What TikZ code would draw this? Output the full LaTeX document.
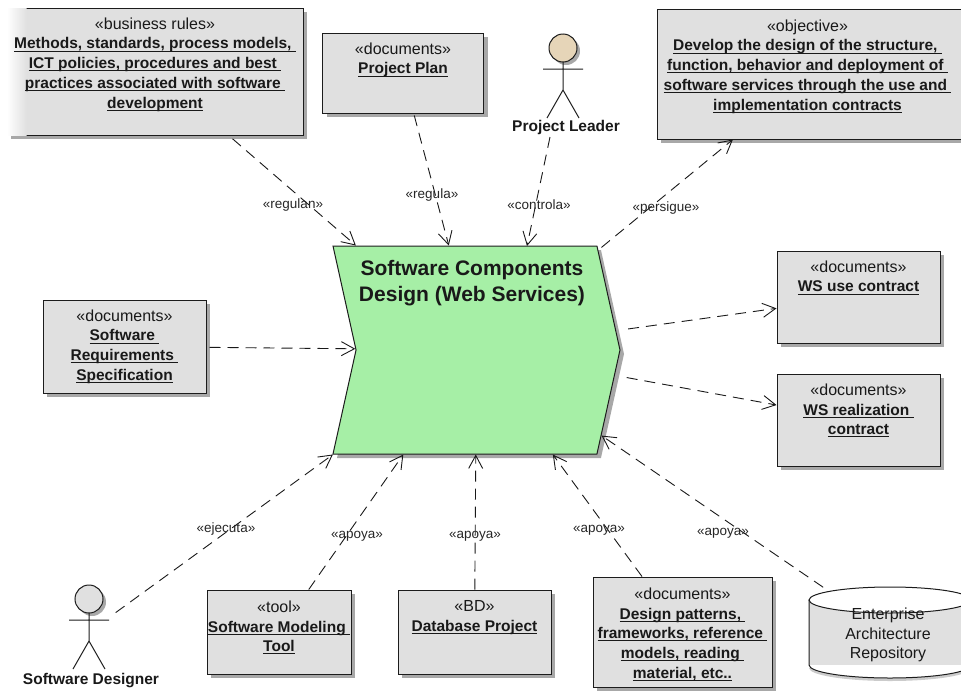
\documentclass[tikz,border=0pt]{standalone}
\usepackage{fontspec}
\setmainfont{Liberation Sans}
\usetikzlibrary{arrows.meta,positioning,shadows,shapes.symbols}

\definecolor{boxgray}{HTML}{E0E0E0}
\definecolor{edgegray}{HTML}{1C1C1C}
\definecolor{shadowgray}{HTML}{A8A8A8}
\definecolor{processgreen}{HTML}{A6EFA6}
\definecolor{leaderskin}{HTML}{E6D5B8}

\newcommand{\ulbf}[1]{\setbox0\hbox{\bfseries\fontsize{15.5}{19.7}\selectfont #1}\rlap{\rule[-2.6pt]{\wd0}{1pt}}\box0}

\tikzset{
  box/.style={draw=edgegray, line width=1pt, fill=boxgray, inner sep=0pt,
    drop shadow={shadow xshift=4pt, shadow yshift=-4pt, fill=shadowgray, opacity=1}},
  boxtext/.style={align=center, inner sep=0pt, text=black!90, font=\fontsize{16}{19.7}\selectfont},
  actorname/.style={inner sep=0pt, text=black!90, font=\bfseries\fontsize{15.5}{18}\selectfont},
  conlabel/.style={inner sep=0pt, text=black!85, font=\fontsize{13.5}{16}\selectfont},
  dep/.style={->, >={Straight Barb[length=13pt,width=14pt]}, line width=.9pt,
    draw=black!90, dash pattern=on 11pt off 7pt},
  actor/.pic={
    \fill [shadowgray] (3,3) circle (14);
    \draw [edgegray, line width=1pt, fill=#1] (0,0) circle (14);
    \draw [edgegray, line width=1pt] (-20,21) -- (20,21) (0,14) -- (0,42) (-16,70) -- (0,42) -- (16,70);
  },
}

\begin{document}
\begin{tikzpicture}[x=1pt,y=-1pt]
\useasboundingbox (0,0) rectangle (961,691);
\clip (0,0) rectangle (961,691);

% boxes round the process
\node [box, minimum width=296pt, minimum height=127pt] (rules) at (155,71.5) {};
\shade [left color=white, right color=boxgray] ([shift={(.5,.5)}]rules.north west) rectangle ([shift={(20,-.5)}]rules.south west);
\node [box, minimum width=161pt, minimum height=80pt] (plan) at (403,73) {};
\node [box, minimum width=311pt, minimum height=130pt] (objective) at (812.5,74) {};
\node [box, minimum width=163pt, minimum height=93pt] (srs) at (124.5,346.5) {};
\node [box, minimum width=163pt, minimum height=92pt] (wsuse) at (858.5,297) {};
\node [box, minimum width=163pt, minimum height=92pt] (wsreal) at (858.5,420) {};
\node [box, minimum width=144pt, minimum height=84pt] (tool) at (279,632) {};
\node [box, minimum width=153pt, minimum height=84pt] (database) at (474.5,632) {};
\node [box, minimum width=179pt, minimum height=110pt] (patterns) at (682.5,632) {};

\node [boxtext, below=10pt of rules.north] (rulestext) {«business rules»\\\ulbf{Methods, standards, process models,\ }\\\ulbf{ICT policies, procedures and best\ }\\\ulbf{practices associated with software\ }\\\ulbf{development}};
\node [boxtext, below=10pt of plan.north] (plantext) {«documents»\\\ulbf{Project Plan}};
\node [boxtext, below=11pt of objective.north, xshift=-5pt] (objectivetext) {«objective»\\\ulbf{Develop the design of the structure,\ }\\\ulbf{function, behavior and deployment of\ }\\\ulbf{software services through the use and\ }\\\ulbf{implementation contracts}};
\node [boxtext, below=10pt of srs.north] (srstext) {«documents»\\\ulbf{Software\ }\\\ulbf{Requirements\ }\\\ulbf{Specification}};
\node [boxtext, below=10pt of wsuse.north] (wsusetext) {«documents»\\\ulbf{WS use contract}};
\node [boxtext, below=10pt of wsreal.north] (wsrealtext) {«documents»\\\ulbf{WS realization\ }\\\ulbf{contract}};
\node [boxtext, below=11pt of tool.north] (tooltext) {«tool»\\\ulbf{Software Modeling\ }\\\ulbf{Tool}};
\node [boxtext, below=11pt of database.north] (databasetext) {«BD»\\\ulbf{Database Project}};
\node [boxtext, below=11pt of patterns.north] (patternstext) {«documents»\\\ulbf{Design patterns,\ }\\\ulbf{frameworks, reference\ }\\\ulbf{models, reading\ }\\\ulbf{material, etc..}};

% process
\node [draw=edgegray, line width=1pt, fill=processgreen, signal, signal to=east, signal from=west,
  signal pointer angle=155, minimum width=287pt, minimum height=208pt, inner sep=0pt,
  drop shadow={shadow xshift=4pt, shadow yshift=-4pt, fill=shadowgray, opacity=1}] (design) at (476.5,350) {};
\node [align=center, inner sep=0pt, text=black!90, font=\bfseries\fontsize{21}{26}\selectfont] (designtext) at (472,283) {Software Components\\Design (Web Services)};

% actors
\pic at (563,48) {actor=leaderskin};
\pic at (89,599) {actor=boxgray};
\node [actorname] (leadername) at (566,127) {Project Leader};
\node [actorname] (designername) at (91,681) {Software Designer};
\coordinate (leadergap) at (550,137);
\coordinate (designtop) at (527,246);
\coordinate (designer) at (89,632);

% repository
\fill [shadowgray!60] (809,668) arc [start angle=180, end angle=0, x radius=81, y radius=13] -- cycle;
\fill [white] (809,665) arc [start angle=180, end angle=0, x radius=81, y radius=13] -- cycle;
\fill [boxgray] (809,600) rectangle (971,665);
\draw [edgegray, line width=1pt] (809,600) -- (809,665) arc [start angle=180, end angle=0, x radius=81, y radius=13];
\draw [edgegray, line width=1pt, fill=white] (890,600) ellipse [x radius=81, y radius=13];
\node [boxtext] (repotext) at (888,635) {Enterprise\\Architecture\\Repository};
\coordinate (repo) at (890,633);

% dependencies
\draw [dep, shorten <=5pt] (rules) -- (design);
\draw [dep, shorten <=2pt] (plan) -- (design);
\draw [dep] (leadergap) -- (designtop);
\draw [dep, shorten <=4pt] (design) -- (objective);
\draw [dep, shorten <=3pt] (srs) -- (design);
\draw [dep, shorten <=12pt] (design) -- (wsuse);
\draw [dep, shorten <=12pt] (design) -- (wsreal);
\draw [dep, shorten <=33pt] (designer) -- (design);
\draw [dep] (tool) -- (design);
\draw [dep] (database) -- (design);
\draw [dep] (patterns) -- (design);
\draw [dep, shorten <=81pt] (repo) -- (design);

\node [conlabel] (regulan) at (293,205) {«regulan»};
\node [conlabel] (regula) at (432,195) {«regula»};
\node [conlabel] (controla) at (539,205) {«controla»};
\node [conlabel] (persigue) at (666,208) {«persigue»};
\node [conlabel] (ejecuta) at (226,529) {«ejecuta»};
\node [conlabel] (apoyatool) at (357,536) {«apoya»};
\node [conlabel] (apoyadb) at (475,536) {«apoya»};
\node [conlabel] (apoyapatterns) at (599,530) {«apoya»};
\node [conlabel] (apoyarepo) at (723,533) {«apoya»};
\end{tikzpicture}
\end{document}
